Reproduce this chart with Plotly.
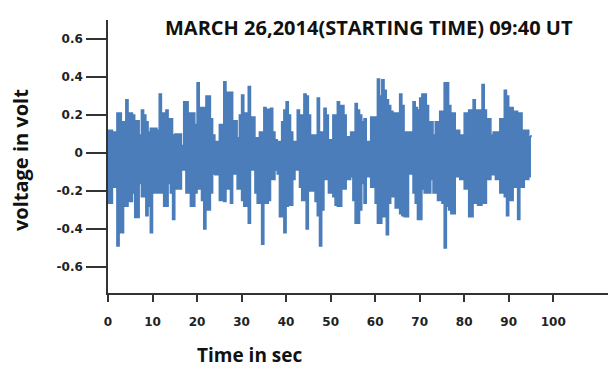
import plotly.graph_objects as go

# Time (s) of each envelope sample
time_s = [0, 0.5, 1, 1.5, 2, 2.5, 3, 3.5, 4, 4.5, 5, 5.5, 6, 6.5, 7, 7.5, 8, 8.5, 9, 9.5,
          10, 10.5, 11, 11.5, 12, 12.5, 13, 13.5, 14, 14.5, 15, 15.5, 16, 16.5, 17, 17.5, 18, 18.5, 19, 19.5,
          20, 20.5, 21, 21.5, 22, 22.5, 23, 23.5, 24, 24.5, 25, 25.5, 26, 26.5, 27, 27.5, 28, 28.5, 29, 29.5,
          30, 30.5, 31, 31.5, 32, 32.5, 33, 33.5, 34, 34.5, 35, 35.5, 36, 36.5, 37, 37.5, 38, 38.5, 39, 39.5,
          40, 40.5, 41, 41.5, 42, 42.5, 43, 43.5, 44, 44.5, 45, 45.5, 46, 46.5, 47, 47.5, 48, 48.5, 49, 49.5,
          50, 50.5, 51, 51.5, 52, 52.5, 53, 53.5, 54, 54.5, 55, 55.5, 56, 56.5, 57, 57.5, 58, 58.5, 59, 59.5,
          60, 60.5, 61, 61.5, 62, 62.5, 63, 63.5, 64, 64.5, 65, 65.5, 66, 66.5, 67, 67.5, 68, 68.5, 69, 69.5,
          70, 70.5, 71, 71.5, 72, 72.5, 73, 73.5, 74, 74.5, 75, 75.5, 76, 76.5, 77, 77.5, 78, 78.5, 79, 79.5,
          80, 80.5, 81, 81.5, 82, 82.5, 83, 83.5, 84, 84.5, 85, 85.5, 86, 86.5, 87, 87.5, 88, 88.5, 89, 89.5,
          90, 90.5, 91, 91.5, 92, 92.5, 93, 93.5, 94, 94.5, 95]

# Upper envelope of the voltage signal (V)
upper_v = [0.12, 0.12, 0.11, 0.11, 0.21, 0.21, 0.165, 0.165, 0.28, 0.21, 0.21, 0.2, 0.17, 0.17, 0.095, 0.226, 0.2, 0.165, 0.11, 0.13,
           0.13, 0.13, 0.12, 0.31, 0.21, 0.21, 0.226, 0.18, 0.18, 0.095, 0.1, 0.1, 0.1, 0.04, 0.27, 0.27, 0.21, 0.21, 0.21, 0.15,
           0.37, 0.24, 0.24, 0.24, 0.30, 0.30, 0.18, 0.095, 0.06, 0.06, 0.15, 0.15, 0.375, 0.32, 0.32, 0.32, 0.17, 0.17, 0.08, 0.2,
           0.305, 0.21, 0.21, 0.35, 0.19, 0.19, 0.08, 0.08, 0.11, 0.11, 0.24, 0.23, 0.23, 0.235, 0.11, 0.07, 0.06, 0.06, 0.165, 0.226,
           0.27, 0.2, 0.11, 0.06, 0.06, 0.226, 0.2, 0.2, 0.31, 0.30, 0.2, 0.095, 0.095, 0.095, 0.29, 0.11, 0.11, 0.235, 0.2, 0.07,
           0.07, 0.2, 0.2, 0.27, 0.25, 0.25, 0.2, 0.086, 0.086, 0.11, 0.11, 0.26, 0.226, 0.2, 0.165, 0.18, 0.06, 0.06, 0.19, 0.19,
           0.19, 0.39, 0.3, 0.385, 0.33, 0.28, 0.25, 0.22, 0.21, 0.21, 0.21, 0.31, 0.25, 0.11, 0.11, 0.11, 0.11, 0.27, 0.24, 0.226,
           0.29, 0.31, 0.31, 0.25, 0.165, 0.165, 0.095, 0.165, 0.165, 0.22, 0.22, 0.37, 0.37, 0.25, 0.21, 0.21, 0.12, 0.12, 0.095, 0.095,
           0.21, 0.21, 0.226, 0.226, 0.28, 0.226, 0.226, 0.226, 0.36, 0.226, 0.18, 0.18, 0.095, 0.11, 0.11, 0.11, 0.18, 0.18, 0.33, 0.3,
           0.24, 0.24, 0.22, 0.22, 0.21, 0.21, 0.12, 0.12, 0.12, 0.086, 0.095]

# Lower envelope of the voltage signal (V)
lower_v = [-0.265, -0.265, -0.18, -0.18, -0.49, -0.42, -0.42, -0.28, -0.28, -0.256, -0.256, -0.21, -0.34, -0.34, -0.16, -0.23, -0.23, -0.33, -0.28, -0.42,
           -0.21, -0.21, -0.21, -0.21, -0.21, -0.28, -0.28, -0.16, -0.21, -0.35, -0.19, -0.19, -0.19, -0.09, -0.09, -0.21, -0.21, -0.28, -0.28, -0.21,
           -0.19, -0.19, -0.25, -0.40, -0.30, -0.30, -0.21, -0.11, -0.115, -0.115, -0.25, -0.25, -0.256, -0.19, -0.19, -0.265, -0.11, -0.11, -0.19, -0.19,
           -0.25, -0.28, -0.28, -0.37, -0.09, -0.09, -0.21, -0.265, -0.265, -0.48, -0.265, -0.265, -0.25, -0.14, -0.14, -0.09, -0.11, -0.335, -0.335, -0.42,
           -0.28, -0.275, -0.275, -0.14, -0.09, -0.09, -0.18, -0.25, -0.25, -0.40, -0.2, -0.2, -0.2, -0.256, -0.33, -0.49, -0.3, -0.14, -0.14, -0.21,
           -0.21, -0.23, -0.275, -0.28, -0.28, -0.19, -0.19, -0.14, -0.14, -0.125, -0.25, -0.37, -0.37, -0.3, -0.16, -0.265, -0.125, -0.125, -0.18, -0.18,
           -0.265, -0.37, -0.37, -0.335, -0.335, -0.43, -0.265, -0.23, -0.23, -0.29, -0.29, -0.32, -0.33, -0.335, -0.335, -0.11, -0.11, -0.21, -0.265, -0.35,
           -0.35, -0.19, -0.21, -0.21, -0.21, -0.14, -0.21, -0.21, -0.25, -0.25, -0.265, -0.50, -0.28, -0.30, -0.32, -0.32, -0.125, -0.125, -0.14, -0.14,
           -0.19, -0.19, -0.335, -0.335, -0.265, -0.265, -0.275, -0.275, -0.265, -0.265, -0.14, -0.14, -0.115, -0.115, -0.14, -0.14, -0.21, -0.21, -0.23, -0.33,
           -0.25, -0.25, -0.18, -0.18, -0.35, -0.18, -0.18, -0.14, -0.14, -0.125, -0.125]

x_ticks = [0, 10, 20, 30, 40, 50, 60, 70, 80, 90, 100]
y_ticks = [-0.6, -0.4, -0.2, 0, 0.2, 0.4, 0.6]
y_tick_text = ["-0.6", "-0.4", "-0.2", "0", "0.2", "0.4", "0.6"]

title_text = "MARCH 26,2014(STARTING TIME) 09:40 UT"
x_title = "Time in sec"
y_title = "voltage in volt"

sig_color = "#4a7dba"
axis_color = "#333333"

fig = go.Figure()
fig.add_trace(go.Scatter(x=time_s, y=upper_v, mode="lines",
                         line=dict(color=sig_color, width=1.5, shape="hv"),
                         showlegend=False, hoverinfo="skip"))
fig.add_trace(go.Scatter(x=time_s, y=lower_v, mode="lines",
                         line=dict(color=sig_color, width=1.5, shape="hv"),
                         fill="tonexty", fillcolor=sig_color,
                         showlegend=False, hoverinfo="skip"))

fig.update_layout(
    width=609, height=367,
    margin=dict(l=108, r=1, t=20, b=74, autoexpand=False),
    paper_bgcolor="white", plot_bgcolor="white",
    xaxis=dict(range=[0, 112.3], tickvals=x_ticks, ticks="outside", ticklen=7,
               tickwidth=1.5, tickcolor=axis_color, showline=True, linecolor=axis_color,
               linewidth=1.5, showgrid=False, zeroline=False, automargin=False,
               tickfont=dict(family="DejaVu Sans", size=12, color="#222222", weight="bold"),
               ticklabelstandoff=10),
    yaxis=dict(range=[-0.737, 0.70], tickvals=y_ticks, ticktext=y_tick_text,
               ticks="outside", ticklen=20, tickwidth=1.5, tickcolor=axis_color,
               showline=True, linecolor=axis_color, linewidth=1.5, showgrid=False,
               zeroline=False, automargin=False,
               tickfont=dict(family="DejaVu Sans", size=12, color="#222222", weight="bold"),
               ticklabelstandoff=1),
    annotations=[
        dict(text="<b>" + title_text + "</b>", xref="paper", yref="paper",
             x=0.522, y=0.971, xanchor="center", yanchor="middle", showarrow=False,
             font=dict(family="Open Sans", size=20, color="#111111")),
        dict(text="<b>" + x_title + "</b>", xref="paper", yref="paper",
             x=0.284, y=-0.227, xanchor="center", yanchor="middle", showarrow=False,
             font=dict(family="Open Sans", size=19, color="#111111")),
        dict(text="<b>" + y_title + "</b>", xref="paper", yref="paper",
             x=-0.176, y=0.487, xanchor="center", yanchor="middle", showarrow=False,
             textangle=-90, font=dict(family="Open Sans", size=20, color="#111111")),
    ],
)

fig.write_html("out.html", config={"displayModeBar": False},
               post_script="document.body.style.margin='0';")
